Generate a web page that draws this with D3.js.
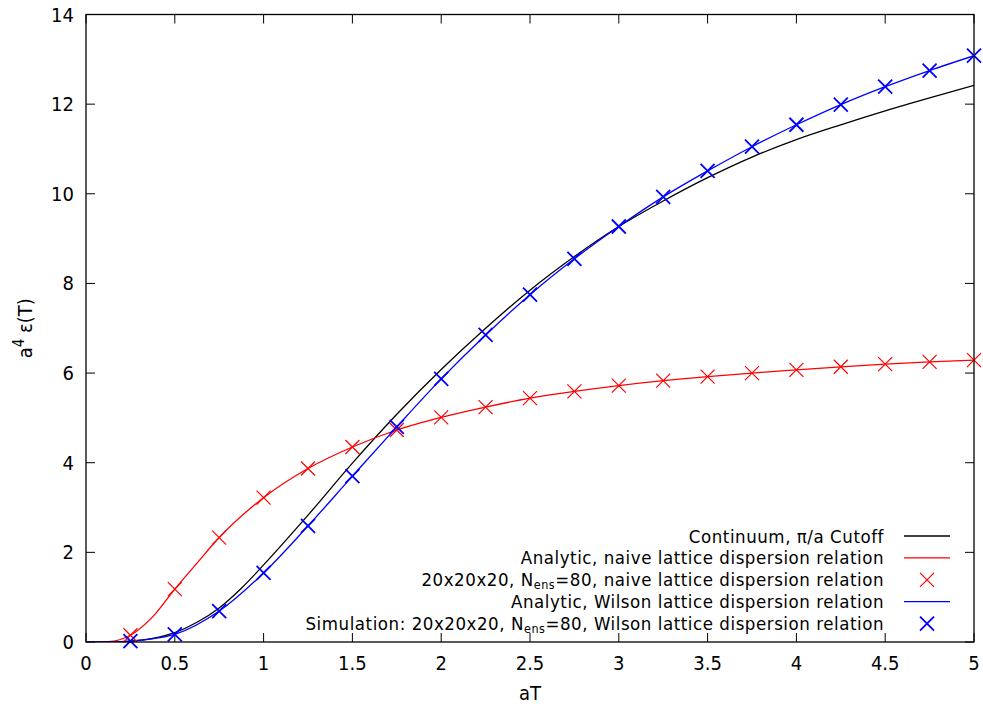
<!DOCTYPE html>
<html>
<head>
<meta charset="utf-8">
<script src="https://cdn.jsdelivr.net/npm/d3@7"></script>
<style>
body{margin:0;background:#fff;}
svg text{font-family:"DejaVu Sans Condensed","DejaVu Sans",sans-serif;font-stretch:condensed;font-size:20px;fill:#000;}
svg .leg text{font-size:18.5px;letter-spacing:0.55px;}
</style>
</head>
<body>
<svg width="983" height="706"></svg>
<script>
(()=>{

//data: sample points (aT)
let xs = [0.25,0.5,0.75,1,1.25,1.5,1.75,2,2.25,2.5,2.75,3,3.25,3.5,3.75,4,4.25,4.5,4.75,5];
//naive lattice simulation
let naiveSim = [0.15,1.18,2.33,3.22,3.87,4.35,4.73,5.01,5.24,5.44,5.59,5.72,5.83,5.92,6.0,6.07,6.14,6.2,6.25,6.29];
//wilson lattice simulation
let wilsonSim = [0.02,0.17,0.69,1.54,2.59,3.7,4.8,5.87,6.85,7.75,8.55,9.27,9.93,10.51,11.05,11.54,11.99,12.39,12.75,13.08];
//analytic curves
let naiveX = [0,0.125,0.25,0.375,0.5,0.625,0.75,1,1.25,1.5,1.75,2,2.25,2.5,2.75,3,3.25,3.5,3.75,4,4.25,4.5,4.75,5];
let naiveY = [0,0.01,0.15,0.56,1.18,1.76,2.33,3.22,3.87,4.35,4.73,5.01,5.24,5.44,5.59,5.72,5.83,5.92,6.0,6.07,6.14,6.2,6.25,6.29];
let wilsonX = [0,0.125,0.25,0.375,0.5,0.75,1,1.25,1.5,1.75,2,2.25,2.5,2.75,3,3.25,3.5,3.75,4,4.25,4.5,4.75,5];
let wilsonY = [0,0.0,0.02,0.07,0.17,0.69,1.54,2.59,3.7,4.8,5.87,6.85,7.75,8.55,9.27,9.93,10.51,11.05,11.54,11.99,12.39,12.75,13.08];
let contX = [0,0.125,0.25,0.375,0.5,0.625,0.75,0.875,1,1.25,1.5,1.75,2,2.25,2.5,2.75,3,3.25,3.5,3.75,4,4.25,4.5,4.75,5];
let contY = [0,0.0,0.02,0.08,0.21,0.44,0.76,1.2,1.72,2.83,3.99,5.08,6.08,7.0,7.85,8.6,9.27,9.84,10.36,10.82,11.21,11.54,11.85,12.14,12.42];

let xTicks = [0,0.5,1,1.5,2,2.5,3,3.5,4,4.5,5];
let yTicks = [0,2,4,6,8,10,12,14];

let svg = d3.select("svg");
let left = 86, right = 974, top = 14.5, bottom = 642;

let x = d3.scaleLinear().domain([0,5]).range([left,right]);
let y = d3.scaleLinear().domain([0,14]).range([bottom,top]);

//ticks: mirrored, inward
let tl = 9;
let ax = svg.append("g");
xTicks.forEach(t=>{
	ax.append("line").attr("x1",x(t)).attr("x2",x(t)).attr("y1",bottom).attr("y2",bottom-tl).attr("stroke","#000");
	ax.append("line").attr("x1",x(t)).attr("x2",x(t)).attr("y1",top).attr("y2",top+tl).attr("stroke","#000");
	ax.append("text").attr("x",x(t)).attr("y",bottom+28).attr("text-anchor","middle").text(t);
});
yTicks.forEach(t=>{
	ax.append("line").attr("x1",left).attr("x2",left+tl).attr("y1",y(t)).attr("y2",y(t)).attr("stroke","#000");
	ax.append("line").attr("x1",right).attr("x2",right-tl).attr("y1",y(t)).attr("y2",y(t)).attr("stroke","#000");
	ax.append("text").attr("x",left-12).attr("y",y(t)+7).attr("text-anchor","end").text(t);
});

//axis titles
svg.append("text").attr("x",(left+right)/2).attr("y",700).attr("text-anchor","middle").text("aT");
let yl = svg.append("text").attr("transform","translate(32,"+((top+bottom)/2)+") rotate(-90)").attr("text-anchor","middle");
yl.append("tspan").text("a");
yl.append("tspan").attr("dy",-8).attr("font-size","15px").text("4");
yl.append("tspan").attr("dy",8).text(" ε(T)");

//clip
svg.append("clipPath").attr("id","clip").append("rect")
	.attr("x",left).attr("y",top).attr("width",right-left).attr("height",bottom-top);

let line = d3.line().x(d=>x(d[0])).y(d=>y(d[1])).curve(d3.curveMonotoneX);
let plot = svg.append("g").attr("clip-path","url(#clip)");

function drawLine(xv,yv,color){
	plot.append("path").datum(d3.zip(xv,yv))
		.attr("d",line).attr("fill","none").attr("stroke",color).attr("stroke-width",1.3);
}
function cross(g,cx,cy,s,color,w){
	g.append("path").attr("d","M"+(cx-s)+","+(cy-s)+"L"+(cx+s)+","+(cy+s)+"M"+(cx-s)+","+(cy+s)+"L"+(cx+s)+","+(cy-s))
		.attr("stroke",color).attr("stroke-width",w).attr("fill","none");
}
function drawPoints(xv,yv,color,w){
	let g = svg.append("g");
	d3.zip(xv,yv).forEach(d=>cross(g,x(d[0]),y(d[1]),7,color,w));
}

drawLine(contX,contY,"#000");
drawLine(naiveX,naiveY,"#ff0000");
drawPoints(xs,naiveSim,"#ff0000",1.2);
drawLine(wilsonX,wilsonY,"#0000ff");
drawPoints(xs,wilsonSim,"#0000ff",1.8);

//frame
svg.append("rect").attr("x",left).attr("y",top).attr("width",right-left).attr("height",bottom-top)
	.attr("fill","none").attr("stroke","#000").attr("stroke-width",1.3);

//legend
let legend = [
	{label:["Continuum, π/a Cutoff"], color:"#000", type:"line"},
	{label:["Analytic, naive lattice dispersion relation"], color:"#ff0000", type:"line"},
	{label:["20x20x20, N","ens","=80, naive lattice dispersion relation"], color:"#ff0000", type:"point"},
	{label:["Analytic, Wilson lattice dispersion relation"], color:"#0000ff", type:"line"},
	{label:["Simulation: 20x20x20, N","ens","=80, Wilson lattice dispersion relation"], color:"#0000ff", type:"point"}
];
let lg = svg.append("g").attr("class","leg");
legend.forEach((d,i)=>{
	let ly = 536 + i*21.9;
	let t = lg.append("text").attr("x",884).attr("y",ly+6.5).attr("text-anchor","end");
	t.append("tspan").text(d.label[0]);
	if(d.label.length>1){
		t.append("tspan").attr("dy",3).attr("font-size","12.5px").text(d.label[1]);
		t.append("tspan").attr("dy",-3).text(d.label[2]);
	}
	if(d.type=="line"){
		lg.append("line").attr("x1",904).attr("x2",950).attr("y1",ly).attr("y2",ly).attr("stroke",d.color).attr("stroke-width",1.3);
	}else{
		cross(lg,927,ly,7,d.color,d.color=="#0000ff"?1.8:1.2);
	}
});

})();
</script>
</body>
</html>
